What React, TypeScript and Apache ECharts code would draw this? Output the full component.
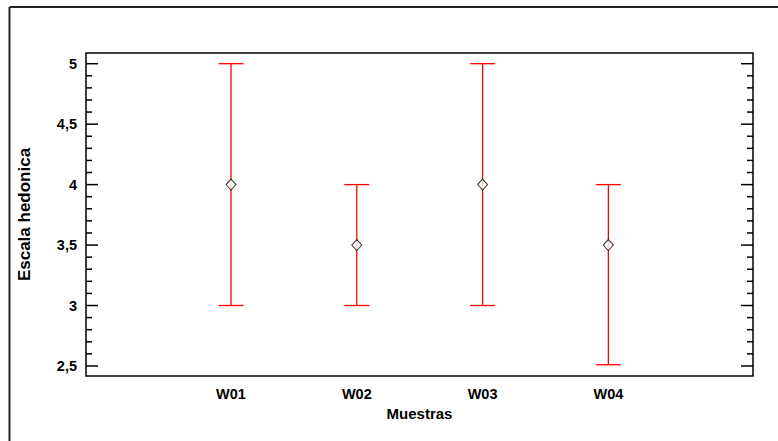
import React, { useEffect, useRef } from "react";
import * as echarts from "echarts";

const categories = ["W01", "W02", "W03", "W04"];
const means = [4, 3.5, 4, 3.5];
const lows = [3, 3, 3, 2.51];
const highs = [5, 4, 5, 4];
const yMajorTicks = [2.5, 3, 3.5, 4, 4.5, 5];
const yMinorTicks = [2.6, 2.7, 2.8, 2.9, 3.1, 3.2, 3.3, 3.4, 3.6, 3.7, 3.8, 3.9, 4.1, 4.2, 4.3, 4.4, 4.6, 4.7, 4.8, 4.9];
const xTitle = "Muestras";
const yTitle = "Escala hedonica";

const Y_MIN = 2.417;
const Y_MAX = 5.0885;
const X_MIN = -0.153;
const X_MAX = 5.15;

export default function App() {
  const ref = useRef<HTMLDivElement>(null);
  useEffect(() => {
    document.body.style.margin = "0";
    const chart = echarts.init(ref.current!, null, { renderer: "svg" });
    const font = "'Liberation Sans', Arial, sans-serif";
    const errData = categories.map((_, i) => [i + 1, lows[i], highs[i]]);
    const meanData = categories.map((_, i) => [i + 1, means[i]]);
    const tickData = [
      ...yMajorTicks.map((v) => [X_MIN, v, 12]),
      ...yMinorTicks.map((v) => [X_MIN, v, 6]),
    ];
    chart.setOption({
      animation: false,
      backgroundColor: "#fff",
      grid: { left: 86, top: 53, right: 25, bottom: 65, show: true, borderColor: "#000", borderWidth: 1.5, backgroundColor: "transparent" },
      graphic: [
        { type: "line", shape: { x1: 9.5, y1: 7, x2: 9.5, y2: 441 }, style: { stroke: "#222", lineWidth: 2 } },
        { type: "line", shape: { x1: 9.5, y1: 7, x2: 778, y2: 7 }, style: { stroke: "#222", lineWidth: 2 } },
      ],
      xAxis: {
        type: "value",
        min: X_MIN,
        max: X_MAX,
        splitLine: { show: false },
        axisLine: { show: false },
        axisTick: { show: false },
        axisLabel: {
          customValues: [1, 2, 3, 4],
          margin: 10,
          fontFamily: font,
          fontWeight: "bold",
          fontSize: 14.5,
          color: "#000",
          formatter: (v: number) => categories[Math.round(v) - 1] ?? "",
        },
        name: xTitle,
        nameLocation: "middle",
        nameGap: 30,
        nameTextStyle: { fontFamily: font, fontWeight: "bold", fontSize: 15, color: "#000" },
      },
      yAxis: {
        type: "value",
        position: "left",
        min: Y_MIN,
        max: Y_MAX,
        splitLine: { show: false },
        axisLine: { show: false },
        axisTick: { show: false },
        axisLabel: {
          show: true,
          customValues: yMajorTicks,
          margin: 9,
          fontFamily: font,
          fontWeight: "bold",
          fontSize: 14.5,
          color: "#000",
          formatter: (v: number) => String(v).replace(".", ","),
        },
        name: yTitle,
        nameLocation: "middle",
        nameGap: 53,
        nameTextStyle: { fontFamily: font, fontWeight: "bold", fontSize: 17, color: "#000" },
      },
      series: [
        {
          type: "custom",
          data: tickData,
          clip: false,
          silent: true,
          renderItem: (params: any, api: any) => {
            const cs = params.coordSys;
            const p = api.coord([X_MIN, api.value(1)]);
            const len = api.value(2);
            const style = { stroke: "#000", lineWidth: 1.5 };
            return {
              type: "group",
              children: [
                { type: "line", shape: { x1: cs.x, y1: p[1], x2: cs.x + len, y2: p[1] }, style },
                { type: "line", shape: { x1: cs.x + cs.width - len, y1: p[1], x2: cs.x + cs.width, y2: p[1] }, style },
              ],
            };
          },
          z: 1,
        },
        {
          type: "custom",
          data: errData,
          renderItem: (params: any, api: any) => {
            const x = api.value(0);
            const lo = api.coord([x, api.value(1)]);
            const hi = api.coord([x, api.value(2)]);
            const hw = 12.5;
            const style = { stroke: "#ff0000", lineWidth: 1.3 };
            return {
              type: "group",
              children: [
                { type: "line", shape: { x1: lo[0], y1: lo[1], x2: hi[0], y2: hi[1] }, style },
                { type: "line", shape: { x1: hi[0] - hw, y1: hi[1], x2: hi[0] + hw, y2: hi[1] }, style },
                { type: "line", shape: { x1: lo[0] - hw, y1: lo[1], x2: lo[0] + hw, y2: lo[1] }, style },
              ],
            };
          },
          z: 2,
        },
        {
          type: "scatter",
          data: meanData,
          symbol: "diamond",
          symbolSize: [10, 11],
          itemStyle: { color: "#fff", borderColor: "#000", borderWidth: 1 },
          z: 3,
        },
      ],
    });
    return () => chart.dispose();
  }, []);
  return <div ref={ref} style={{ position: "absolute", left: 0, top: 0, width: 778, height: 441 }} />;
}
